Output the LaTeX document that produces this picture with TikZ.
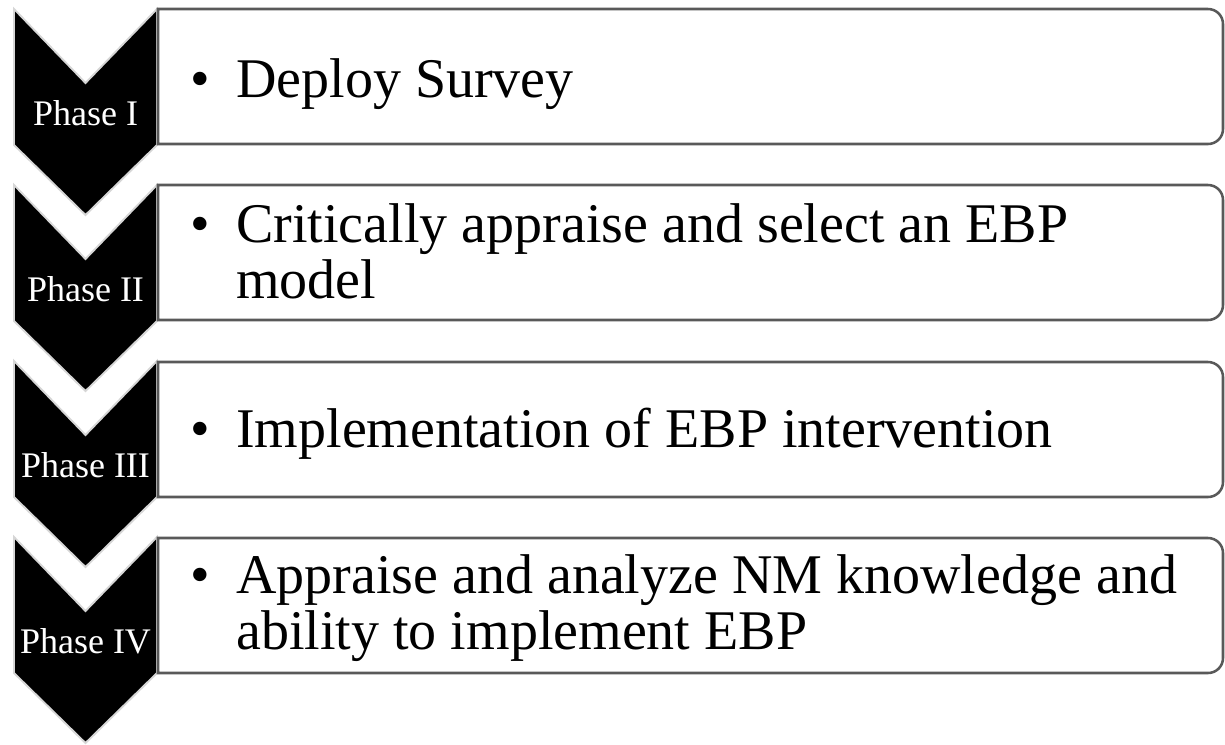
\documentclass[tikz,border=0pt]{standalone}
\usepackage{fontspec}
\setmainfont{Liberation Serif}
\definecolor{chevedge}{HTML}{D6D6D6}
\definecolor{boxedge}{HTML}{595959}
\tikzset{
  chev/.style={fill=black, draw=chevedge, line width=1.4pt, line join=miter},
  boxline/.style={fill=white, draw=boxedge, line width=1.9pt},
  phaselabel/.style={text=white, font=\fontsize{27}{30}\selectfont, inner sep=0pt, anchor=base},
  itemtext/.style={font=\fontsize{42}{42}\selectfont, inner sep=0pt, anchor=base west}
}
\newcommand{\chevron}[1]{%
  \path[chev] (14,#1) -- (85.5,#1+74) -- (157,#1) -- (157,#1+136) -- (85.5,#1+206) -- (14,#1+136) -- cycle;}
\newcommand{\itembox}[1]{%
  \path[boxline] (158,#1) -- (1208,#1) .. controls (1216.3,#1) and (1223,#1+6.7) .. (1223,#1+15)
     -- (1223,#1+120) .. controls (1223,#1+128.3) and (1216.3,#1+135) .. (1208,#1+135)
     -- (158,#1+135) -- cycle;}
\newcommand{\bul}{\makebox[34.5pt][l]{\textbullet}}
\begin{document}
\begin{tikzpicture}[x=0.75pt,y=-0.75pt]
\useasboundingbox (0,0) rectangle (1225,744);
% chevrons
\chevron{9}
\chevron{185}
\chevron{361}
\chevron{537}
% boxes
\itembox{9}
\itembox{185}
\itembox{362}
\itembox{538}
% phase labels
\node[phaselabel] (p1) at (85.5,125) {Phase I};
\node[phaselabel] (p2) at (85.5,301) {Phase II};
\node[phaselabel] (p3) at (85.5,477) {Phase III};
\node[phaselabel] (p4) at (85.5,653) {Phase IV};
% texts
\node[itemtext] (t1) at (190,97) {\begin{tabular}[t]{@{}l@{}}\bul Deploy Survey\end{tabular}};
\node[itemtext] (t2) at (190,242) {\begin{tabular}[t]{@{}l@{}}\bul Critically appraise and select an EBP\\\hspace*{34.5pt}model\end{tabular}};
\node[itemtext] (t3) at (190,447) {\begin{tabular}[t]{@{}l@{}}\bul Implementation of EBP intervention\end{tabular}};
\node[itemtext] (t4) at (190,593) {\begin{tabular}[t]{@{}l@{}}\bul Appraise and analyze NM knowledge and\\\hspace*{34.5pt}ability to implement EBP\end{tabular}};
\end{tikzpicture}
\end{document}
